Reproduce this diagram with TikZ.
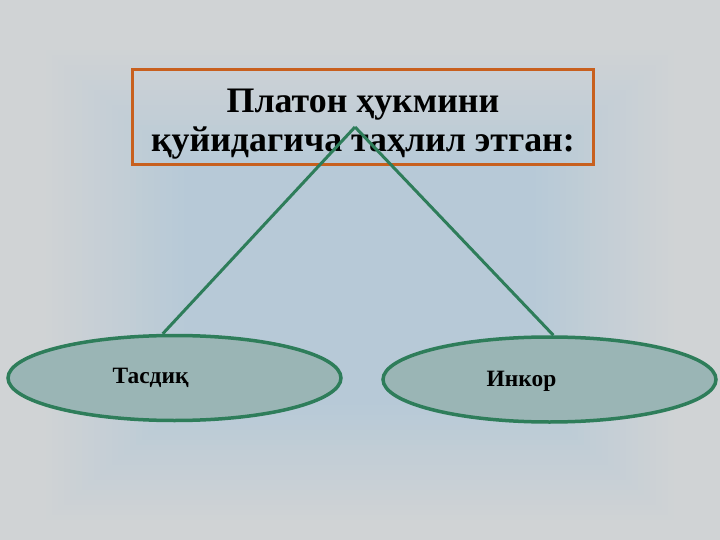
\documentclass[tikz,border=0pt]{standalone}
\usepackage{fontspec}
\setmainfont{Liberation Serif}
\usetikzlibrary{shapes.geometric}
\definecolor{bgedge}{RGB}{208,211,213}
\definecolor{bgmid}{RGB}{182,201,215}
\definecolor{boxorange}{RGB}{200,96,30}
\definecolor{linegreen}{RGB}{46,125,90}
\definecolor{ovalfill}{RGB}{154,181,181}
\tikzset{
  titlebox/.style={draw=boxorange, line width=3bp, minimum width=460bp, minimum height=95bp,
    inner sep=2bp, text height=76bp, font=\fontsize{36}{39}\selectfont\bfseries, align=center},
  oval/.style={ellipse, draw=linegreen, line width=3.5bp, fill=ovalfill,
    minimum width=333bp, minimum height=85bp, inner sep=0pt},
  branch/.style={draw=linegreen, line width=3bp},
  ovaltext/.style={font=\fontsize{23.5}{26}\selectfont\bfseries}
}
\begin{document}
\begin{tikzpicture}[x=1bp,y=-1bp]
\useasboundingbox (0,0) rectangle (720,540);
% background
\fill[bgedge] (0,0) rectangle (720,540);
\foreach \i in {0,...,24} {
  \pgfmathtruncatemacro{\p}{4*\i}
  \fill[bgmid!\p!bgedge] (40+6*\i,45+5*\i) rectangle (680-6*\i,525-5*\i);
}

\node[titlebox] (title) at (363,117.5) {Платон ҳукмини\\қуйидагича таҳлил этган:};
\coordinate (apex) at (355,127);

\node[oval, label={[ovaltext,xshift=-24bp]center:Тасдиқ}] (tasdiq) at (174.5,378) {};
\node[oval, label={[ovaltext,xshift=-28bp,yshift=-2bp]center:Инкор}] (inkor) at (549.5,379.5) {};

\draw[branch] (apex) -- (tasdiq.105);
\draw[branch] (apex) -- (inkor.85);
\end{tikzpicture}
\end{document}
